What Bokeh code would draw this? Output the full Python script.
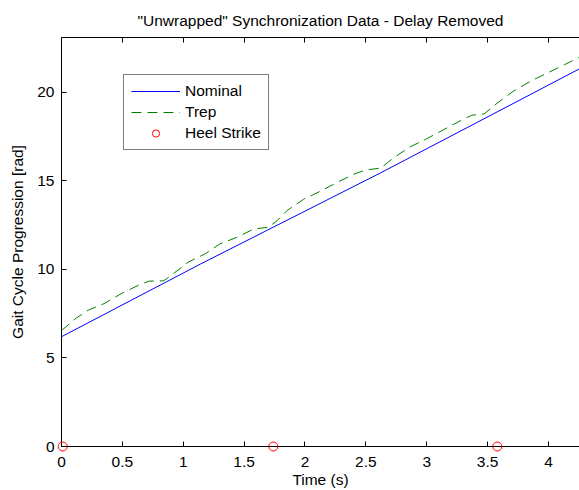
from bokeh.plotting import figure
from bokeh.models import (LinearAxis, Range1d, Legend, LegendItem, FixedTicker,
                          NumeralTickFormatter, CustomJSTickFormatter)
from bokeh.embed import file_html
from bokeh.resources import INLINE

# ---- data ----
time_nominal = [0.0, 1.14, 2.62, 4.26]
nominal = [6.2, 10.3, 15.45, 21.35]

time_trep = [0.0, 0.12, 0.22, 0.35, 0.49, 0.63, 0.72, 0.84, 0.99, 1.04, 1.18, 1.30, 1.44,
             1.58, 1.70, 1.77, 1.85, 1.99, 2.12, 2.26, 2.40, 2.50, 2.62, 2.73, 2.86,
             3.00, 3.14, 3.28, 3.37, 3.47, 3.52, 3.58, 3.71, 3.85, 3.99, 4.13, 4.26]
trep = [6.55, 7.25, 7.70, 8.07, 8.63, 9.10, 9.34, 9.36, 10.13, 10.41, 10.88, 11.44, 11.81,
        12.29, 12.38, 12.75, 13.31, 13.97, 14.40, 14.90, 15.38, 15.62, 15.72, 16.31, 16.91,
        17.38, 17.90, 18.41, 18.71, 18.78, 19.05, 19.40, 20.06, 20.62, 21.09, 21.56, 22.0]

heel_time = [0.01, 1.74, 3.58]
heel_value = [0.0, 0.0, 0.0]

x_ticks = [0, 0.5, 1, 1.5, 2, 2.5, 3, 3.5, 4]
y_ticks = [0, 5, 10, 15, 20]

title_text = '"Unwrapped" Synchronization Data - Delay Removed'
x_label = "Time (s)"
y_label = "Gait Cycle Progression [rad]"
names = ["Nominal", "Trep", "Heel Strike"]

FONT = "Liberation Sans"
FS = "15.5px"

p = figure(width=579, height=490, output_backend="svg", toolbar_location=None,
           x_range=Range1d(0, 4.255), y_range=Range1d(0, 23.1),
           min_border_left=61, min_border_right=0, min_border_top=36, min_border_bottom=43,
           title=title_text, x_axis_label=x_label, y_axis_label=y_label)
p.background_fill_color = "white"
p.border_fill_color = "white"
p.outline_line_color = None
p.grid.visible = False

p.title.text_font = FONT
p.title.text_font_size = FS
p.title.text_font_style = "normal"
p.title.text_color = "black"
p.title.align = "center"
p.title.standoff = 18

for ax in (p.xaxis[0], p.yaxis[0]):
    ax.axis_line_color = "black"
    ax.major_tick_line_color = "black"
    ax.major_tick_in = 5
    ax.major_tick_out = 0
    ax.minor_tick_line_color = None
    ax.major_label_text_font = FONT
    ax.major_label_text_font_size = FS
    ax.major_label_text_color = "black"
    ax.axis_label_text_font = FONT
    ax.axis_label_text_font_size = FS
    ax.axis_label_text_font_style = "normal"
    ax.axis_label_text_color = "black"

p.xaxis[0].ticker = FixedTicker(ticks=x_ticks)
p.xaxis[0].formatter = NumeralTickFormatter(format="0.[0]")
p.xaxis[0].major_label_standoff = 10
p.xaxis[0].axis_label_standoff = 1
p.yaxis[0].ticker = FixedTicker(ticks=y_ticks)
p.yaxis[0].major_label_standoff = 7
p.yaxis[0].axis_label_standoff = 8

top = LinearAxis(ticker=FixedTicker(ticks=x_ticks), axis_line_color="black",
                 major_tick_line_color="black", major_tick_in=5, major_tick_out=0,
                 minor_tick_line_color=None,
                 formatter=CustomJSTickFormatter(code="return ''"),
                 major_label_standoff=0)
p.add_layout(top, "above")

r_nom = p.line(time_nominal, nominal, line_color="#0000ff", line_width=1)
r_trep = p.line(time_trep, trep, line_color="#008000", line_width=1, line_dash="10 6")
r_heel = p.scatter(heel_time, heel_value, marker="circle", size=9, fill_color=None,
                   line_color="#ff0000", line_width=1, level="overlay")

legend = Legend(items=[LegendItem(label=names[0], renderers=[r_nom]),
                       LegendItem(label=names[1], renderers=[r_trep]),
                       LegendItem(label=names[2], renderers=[r_heel])],
                location=(62, 296), margin=0, padding=7, spacing=3,
                glyph_width=49, glyph_height=18, label_height=18, label_standoff=5,
                label_text_font=FONT, label_text_font_size=FS, label_text_color="black",
                border_line_color="black", border_line_width=1,
                background_fill_color="white", background_fill_alpha=1)
p.add_layout(legend, "center")

open("out.html", "w").write(file_html(p, INLINE))
